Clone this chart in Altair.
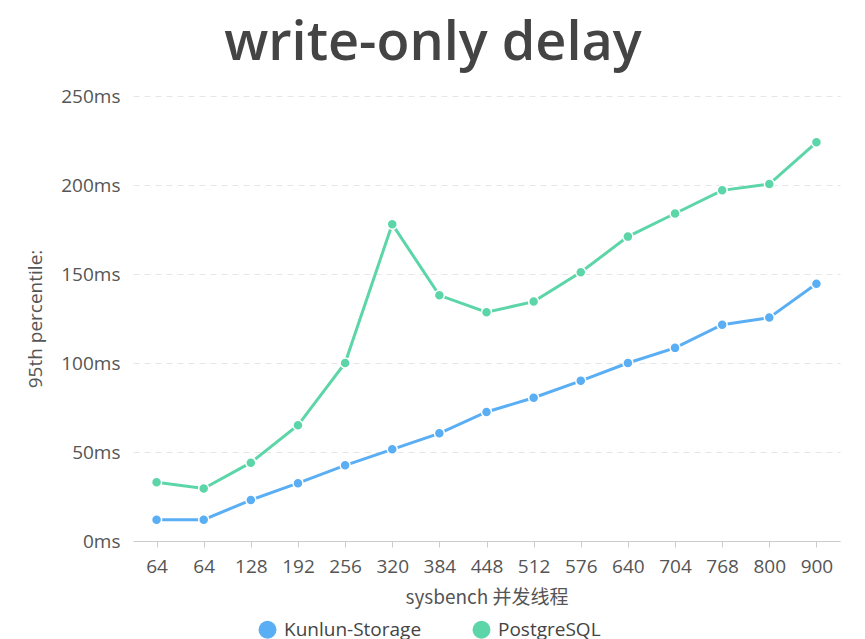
import altair as alt
import pandas as pd

threads = ["64", "64", "128", "192", "256", "320", "384", "448", "512", "576", "640", "704", "768", "800", "900"]
kunlun = [12, 12, 23, 32.5, 42.5, 51.5, 60.5, 72.5, 80.5, 90, 100, 108.5, 121.5, 125.5, 144.5]
postgres = [33, 29.5, 44, 65, 100, 178, 138, 128.5, 134.5, 151, 171, 184, 197, 200.5, 224]
series = ["Kunlun-Storage", "PostgreSQL"]
colors = ["#5aaef3", "#5cd6a8"]

rows = []
for i, t in enumerate(threads):
    rows.append({"i": i, "series": series[0], "v": kunlun[i]})
    rows.append({"i": i, "series": series[1], "v": postgres[i]})
df = pd.DataFrame(rows)

label_arr = "[" + ",".join("'%s'" % t for t in threads) + "]"
FONT = "Open Sans"

x = alt.X("i:O", title="sysbench 并发线程",
          scale=alt.Scale(paddingOuter=0.5),
          axis=alt.Axis(labelExpr=label_arr + "[datum.value]", labelAngle=0,
                        labelFontSize=19, labelColor="#555555", labelPadding=10,
                        titleFontSize=19, titleColor="#555555", titleFontWeight="normal",
                        titleFont="Noto Sans CJK SC", titlePadding=12,
                        domainColor="#cccccc", tickColor="#cccccc", tickSize=6,
                        grid=False))
y = alt.Y("v:Q", title="95th percentile:",
          scale=alt.Scale(domain=[0, 250]),
          axis=alt.Axis(values=[0, 50, 100, 150, 200, 250],
                        labelExpr="datum.value + 'ms'",
                        labelFontSize=19, labelColor="#555555", labelPadding=13,
                        titleFontSize=19, titleColor="#555555", titleFontWeight="normal",
                        titlePadding=8, minExtent=80, maxExtent=80,
                        domain=False, ticks=False,
                        gridColor="#e6e6e6", gridDash=[6, 5]))
color = alt.Color("series:N", title=None,
                  scale=alt.Scale(domain=series, range=colors),
                  legend=alt.Legend(orient="none", legendX=125, legendY=524,
                                    direction="horizontal",
                                    symbolType="circle", symbolSize=324,
                                    symbolStrokeWidth=0, labelFontSize=19,
                                    labelColor="#444444", columnPadding=50,
                                    labelOffset=7))

base = alt.Chart(df)
lines = base.mark_line(strokeWidth=3).encode(x=x, y=y, color=color)
points = base.mark_point(filled=True, size=100, opacity=1, stroke="white",
                         strokeWidth=1.5, strokeOpacity=1).encode(
    x=x, y=y, fill=alt.Fill("series:N", scale=alt.Scale(domain=series, range=colors), legend=None))

chart = alt.layer(lines, points).properties(
    width=707, height=445,
    title=alt.TitleParams("write-only delay", fontSize=54, fontWeight=600,
                          color="#444444", anchor="middle", frame="bounds",
                          offset=16),
    padding={"left": 18, "top": 9, "right": 10, "bottom": 0},
).configure(font=FONT).configure_view(stroke="transparent", strokeWidth=0).configure_axisX(grid=False)

chart.save("out.html", embed_options={"renderer": "svg", "actions": False})
